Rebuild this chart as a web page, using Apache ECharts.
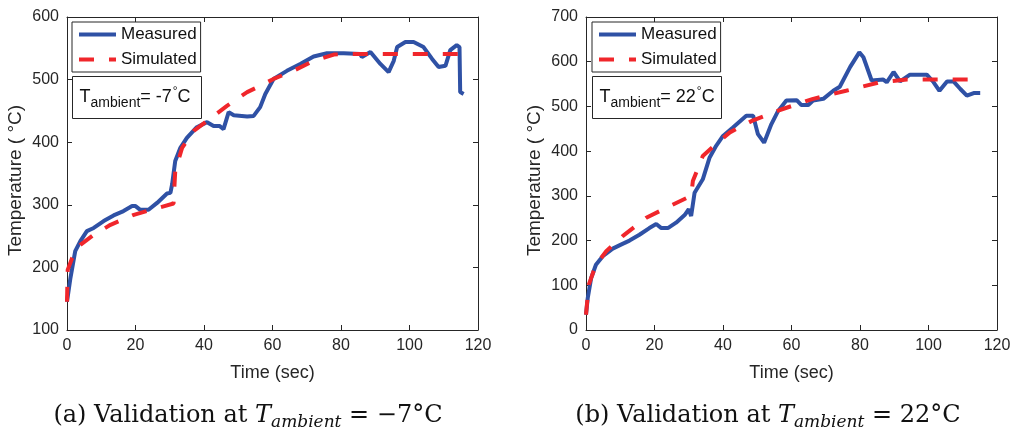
<!DOCTYPE html>
<html>
<head>
<meta charset="utf-8">
<script src="https://cdn.jsdelivr.net/npm/echarts@6/dist/echarts.min.js"></script>
<style>html,body{margin:0;padding:0;background:#fff}#c{width:1017px;height:432px}</style>
</head>
<body>
<div id="c"></div>
<script>
// ---- Data (a): T_ambient = -7 C ----
const timeMeasA = [0,1,2.4,3.9,5.8,7.8,10.7,13.6,16.5,19,20,21.4,23.8,26.3,29.2,30.2,30.7,31.6,33.1,35,37.9,40.9,42.8,44.5,45.7,47.2,48.7,52.6,54.5,56.4,57.9,60.3,64.2,68.1,72,75.9,80.8,85.6,86.1,88.6,91.5,93.9,95.4,96.4,98.8,101.2,104.1,106.6,108.5,110.5,111.9,113.8,114.6,114.8,115.8];
const measA = [145,183,226,242,258,263,274,283,290,298,298,292,292,303,318,319,333,370,391,407,424,432,426,426,421,448,443,441,442,456,477,501,514,525,537,542,542,541,536,544,525,512,530,552,560,560,552,533,520,522,547,555,552,480,477];
const timeSimA = [0,0.2,1.5,3.9,7.8,12.7,19.5,25.3,31.1,31.6,33.6,37,40.9,46.7,52.6,56.4,60.3,66.1,72,77.9,81.8,115.8];
const simA = [145,196,215,236,252,268,284,293,302,354,391,418,434,458,480,490,501,514,530,540,541,541];

// ---- Data (b): T_ambient = 22 C ----
const timeMeasB = [0,0.5,1.5,2.9,4.9,7.8,10.2,12.7,15.6,18.5,20.5,22,23.9,26.3,28.8,30,30.7,31.7,34.1,36.1,38,40,42.9,46.8,48.8,50.2,52,54.1,56.1,58.5,61.5,62.9,64.9,66.3,69.3,72.2,74.1,77.1,79.8,81,83.4,86.8,87.8,89.8,91.7,94.6,99.5,101.5,103.2,105.4,107.3,109.3,111.2,113.2,115.1];
const measB = [34,71,116,146,165,182,191,200,213,228,237,228,228,240,257,270,255,307,337,386,412,434,453,479,479,438,419,460,490,513,514,503,503,513,517,535,544,588,621,610,558,560,554,577,556,571,571,554,535,556,556,539,524,530,530];
const timeSimB = [0,0.8,2.9,5.9,10.7,17.6,24.4,30.7,31.2,34.1,38,42,48.8,56.6,66.3,75.9,85.8,93.7,113.7];
const simB = [34,101,146,176,210,251,277,300,333,389,416,442,469,492,517,535,554,560,560];

// ---- Axis ranges / labels ----
const xRange = {min: 0, max: 120, interval: 20};
const yRangeA = {min: 100, max: 600, interval: 100};
const yRangeB = {min: 0, max: 700, interval: 100};
const seriesNames = ['Measured', 'Simulated'];
const xTitle = 'Time (sec)';
const yTitle = 'Temperature ( °C)';
const annotA = '-7';
const annotB = '22';
const captionA = ['(a) Validation at ', ' = −7°C'];
const captionB = ['(b) Validation at ', ' = 22°C'];

const zip = (t, v) => t.map((x, i) => [x, v[i]]);

const AX = '#262626';
const SANS = 'Liberation Sans, Arial, sans-serif';
const SERIF = 'DejaVu Serif, Liberation Serif, serif';
const BLUE = '#2f51a5';
const RED = '#f0262b';

function axis(kind, gridIndex, range, pos, showLabel, extra) {
  return Object.assign({
    type: 'value', gridIndex, position: pos,
    min: range.min, max: range.max, interval: range.interval,
    axisLine: {show: true, onZero: false, lineStyle: {color: AX, width: 1}},
    axisTick: {show: true, inside: true, length: 5, lineStyle: {color: AX, width: 1}},
    splitLine: {show: false},
    axisLabel: {show: showLabel, color: AX, fontSize: 16, fontFamily: SANS, margin: 8}
  }, extra || {});
}

const xName = {name: xTitle, nameLocation: 'middle', nameGap: 34, nameTextStyle: {color: AX, fontSize: 18, fontFamily: SANS}};
const yName = {name: yTitle, nameLocation: 'middle', nameGap: 42, nameTextStyle: {color: AX, fontSize: 19, fontFamily: SANS, padding: [0, 14, 0, 0]}};

function lineSeries(name, data, xi, yi, dashed) {
  return {
    name, type: 'line', data, xAxisIndex: xi, yAxisIndex: yi,
    showSymbol: false, symbol: 'none', smooth: false, animation: false,
    lineStyle: dashed ? {color: RED, width: 4, type: [15, 15]} : {color: BLUE, width: 4},
    itemStyle: {color: dashed ? RED : BLUE},
    z: dashed ? 3 : 2
  };
}

function legend(left) {
  return {
    left, top: 22, orient: 'vertical', data: seriesNames, selectedMode: false,
    borderColor: AX, borderWidth: 1, backgroundColor: '#fff',
    padding: [4, 4, 4, 5], itemWidth: 37, itemHeight: 16, itemGap: 8,
    itemStyle: {opacity: 0},
    lineStyle: {width: 4},
    textStyle: {color: '#111', fontSize: 17, fontFamily: SANS}
  };
}

function annot(x, val) {
  return {
    type: 'group', left: x, top: 76, z: 100,
    children: [
      {type: 'rect', shape: {x: 0, y: 0, width: val.length > 2 ? 127 : 129, height: 42},
       style: {fill: '#fff', stroke: AX, lineWidth: 1}},
      {type: 'text', x: 7, y: 9,
       style: {
         text: '{m|T}{s|ambient}{m|= ' + val + '}{p|°}{m|C}',
         rich: {
           m: {fontSize: 18, fontFamily: SANS, fill: '#111', verticalAlign: 'top', padding: [3, 0, 0, 0]},
           s: {fontSize: 14, fontFamily: SANS, fill: '#111', verticalAlign: 'top', padding: [11, 0, 0, 0]},
           p: {fontSize: 12, fontFamily: SANS, fill: '#111', verticalAlign: 'top', padding: [0, 0, 0, 1]}
         }
       }}
    ]
  };
}

function caption(cx, parts) {
  return {
    type: 'text', x: cx, y: 404, z: 100,
    style: {
      text: '{r|' + parts[0] + '}{i|T}{s|ambient}{r|' + parts[1] + '}',
      align: 'center',
      rich: {
        r: {fontSize: 24, fontFamily: SERIF, fill: '#111', verticalAlign: 'top', padding: [0, 0, 0, 0]},
        i: {fontSize: 24, fontFamily: SERIF, fontStyle: 'italic', fill: '#111', verticalAlign: 'top', padding: [0, 0, 0, 0]},
        s: {fontSize: 17, fontFamily: SERIF, fontStyle: 'italic', fill: '#111', verticalAlign: 'top', padding: [10, 0, 0, 0]}
      }
    }
  };
}

const option = {
  animation: false,
  backgroundColor: '#fff',
  grid: [
    {left: 67, right: 539, top: 17, bottom: 102},
    {left: 586, right: 20, top: 17, bottom: 102}
  ],
  xAxis: [
    axis('x', 0, xRange, 'bottom', true, xName),
    axis('x', 0, xRange, 'top', false),
    axis('x', 1, xRange, 'bottom', true, xName),
    axis('x', 1, xRange, 'top', false)
  ],
  yAxis: [
    axis('y', 0, yRangeA, 'left', true, yName),
    axis('y', 0, yRangeA, 'right', false),
    axis('y', 1, yRangeB, 'left', true, yName),
    axis('y', 1, yRangeB, 'right', false)
  ],
  legend: [legend(72), legend(592)],
  series: [
    lineSeries(seriesNames[0], zip(timeMeasA, measA), 0, 0, false),
    lineSeries(seriesNames[1], zip(timeSimA, simA), 0, 0, true),
    lineSeries(seriesNames[0], zip(timeMeasB, measB), 2, 2, false),
    lineSeries(seriesNames[1], zip(timeSimB, simB), 2, 2, true)
  ],
  graphic: [
    annot(72, annotA),
    annot(592, annotB),
    caption(248, captionA),
    caption(768, captionB)
  ]
};

const chart = echarts.init(document.getElementById('c'), null, {renderer: 'canvas'});
chart.setOption(option);
</script>
</body>
</html>
